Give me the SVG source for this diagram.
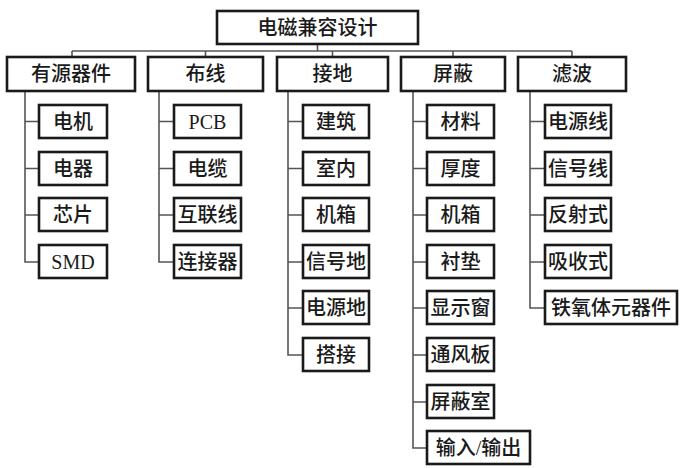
<svg xmlns="http://www.w3.org/2000/svg" width="684" height="468" viewBox="0 0 684 468">
<style>
rect{fill:#fff;stroke:#1a1a1a;stroke-width:2.6}
text{font-family:"Liberation Serif","Noto Sans CJK SC",serif;font-size:20px;font-weight:500;fill:#1a1a1a;text-anchor:middle;dominant-baseline:central}
.c{fill:none;stroke:#555;stroke-width:1.6}
</style>
<rect x="0" y="0" width="684" height="468" style="fill:#fff;stroke:none"/>
<g id="connectors" class="c">
<path d="M317.5 44V51M72 51H572M72 51V57M205.5 51V57M332.5 51V57M453 51V57M572 51V57"/>
<path d="M25 91V262H39M25 121.5H39M25 168.5H39M25 215H39"/>
<path d="M159 91V262H174M159 121.5H174M159 168.5H174M159 215H174"/>
<path d="M288 91V355H303M288 121.5H303M288 168.5H303M288 215H303M288 262H303M288 308H303"/>
<path d="M413 91V448H427M413 121.5H427M413 168.5H427M413 215H427M413 262H427M413 308H427M413 355H427M413 402H427"/>
<path d="M530 91V308H545M530 121.5H545M530 168.5H545M530 215H545M530 262H545"/>
</g>
<g id="root"><rect x="217" y="11" width="201" height="33"/><text x="317.5" y="27.5">电磁兼容设计</text></g>
<g id="n1"><rect x="7" y="57" width="128" height="34"/><text x="71" y="74">有源器件</text></g>
<g id="n2"><rect x="148" y="57" width="115" height="34"/><text x="205.5" y="74">布线</text></g>
<g id="n3"><rect x="277" y="57" width="111" height="34"/><text x="332.5" y="74">接地</text></g>
<g id="n4"><rect x="401" y="57" width="104" height="34"/><text x="453" y="74">屏蔽</text></g>
<g id="n5"><rect x="518" y="57" width="108" height="34"/><text x="572" y="74">滤波</text></g>

<g id="n1a"><rect x="39" y="105" width="68" height="33"/><text x="73" y="121.5">电机</text></g>
<g id="n1b"><rect x="39" y="152" width="68" height="33"/><text x="73" y="168.5">电器</text></g>
<g id="n1c"><rect x="39" y="198" width="68" height="33"/><text x="73" y="214.5">芯片</text></g>
<g id="n1d"><rect x="39" y="245" width="68" height="33"/><text x="73" y="261.5">SMD</text></g>

<g id="n2a"><rect x="174" y="105" width="67" height="33"/><text x="207.5" y="121.5">PCB</text></g>
<g id="n2b"><rect x="174" y="152" width="67" height="33"/><text x="207.5" y="168.5">电缆</text></g>
<g id="n2c"><rect x="174" y="198" width="67" height="33"/><text x="207.5" y="214.5">互联线</text></g>
<g id="n2d"><rect x="174" y="245" width="67" height="33"/><text x="207.5" y="261.5">连接器</text></g>

<g id="n3a"><rect x="303" y="105" width="66" height="33"/><text x="336" y="121.5">建筑</text></g>
<g id="n3b"><rect x="303" y="152" width="66" height="33"/><text x="336" y="168.5">室内</text></g>
<g id="n3c"><rect x="303" y="198" width="66" height="33"/><text x="336" y="214.5">机箱</text></g>
<g id="n3d"><rect x="303" y="245" width="66" height="33"/><text x="336" y="261.5">信号地</text></g>
<g id="n3e"><rect x="303" y="291" width="66" height="33"/><text x="336" y="307.5">电源地</text></g>
<g id="n3f"><rect x="303" y="338" width="66" height="33"/><text x="336" y="354.5">搭接</text></g>

<g id="n4a"><rect x="427" y="105" width="67" height="33"/><text x="460.5" y="121.5">材料</text></g>
<g id="n4b"><rect x="427" y="152" width="67" height="33"/><text x="460.5" y="168.5">厚度</text></g>
<g id="n4c"><rect x="427" y="198" width="67" height="33"/><text x="460.5" y="214.5">机箱</text></g>
<g id="n4d"><rect x="427" y="245" width="67" height="33"/><text x="460.5" y="261.5">衬垫</text></g>
<g id="n4e"><rect x="427" y="291" width="67" height="33"/><text x="460.5" y="307.5">显示窗</text></g>
<g id="n4f"><rect x="427" y="338" width="67" height="33"/><text x="460.5" y="354.5">通风板</text></g>
<g id="n4g"><rect x="427" y="385" width="67" height="33"/><text x="460.5" y="401.5">屏蔽室</text></g>
<g id="n4h"><rect x="427" y="431" width="103" height="33"/><text x="478.5" y="447.5">输入/输出</text></g>

<g id="n5a"><rect x="545" y="105" width="66" height="33"/><text x="578" y="121.5">电源线</text></g>
<g id="n5b"><rect x="545" y="152" width="66" height="33"/><text x="578" y="168.5">信号线</text></g>
<g id="n5c"><rect x="545" y="198" width="66" height="33"/><text x="578" y="214.5">反射式</text></g>
<g id="n5d"><rect x="545" y="245" width="66" height="33"/><text x="578" y="261.5">吸收式</text></g>
<g id="n5e"><rect x="545" y="291" width="132" height="33"/><text x="611" y="307.5">铁氧体元器件</text></g>
</svg>
